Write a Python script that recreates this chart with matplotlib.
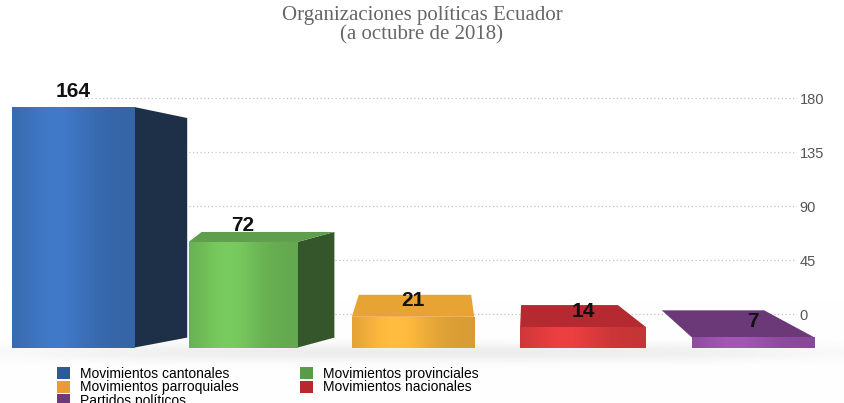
import numpy as np
import matplotlib
matplotlib.use("Agg")
import matplotlib.pyplot as plt
from matplotlib.patches import Polygon, Patch

#--------------------------------
# DATA
#--------------------------------
categories = ["Movimientos cantonales", "Movimientos provinciales",
              "Movimientos parroquiales", "Movimientos nacionales",
              "Partidos políticos"]
values = [164, 72, 21, 14, 7]
yticks = [0, 45, 90, 135, 180]
title = "Organizaciones políticas Ecuador\n(a octubre de 2018)"

#--------------------------------
# STYLE (colores y pseudo-3D por barra)
#--------------------------------
front_col = ["#3d73bd", "#72c05a", "#f5b23c", "#e03c3e", "#9b52ad"]
side_col = ["#1e3048", "#34562a", None, None, None]
top_col = [None, "#5f9e4c", "#e8a335", "#b52a30", "#6b3878"]
legend_col = ["#2e5b94", "#5b9a48", "#e99b39", "#b8292b", "#6a3a7b"]
bar_w = [0.72, 0.64, 0.72, 0.74, 0.72]
# desplazamientos en px: (dx derecha, dx izquierda, dy arriba, dy abajo)
depth = [(53, 0, -11, 10), (37, 13, 10, 10), (-3, 7, 22, 0),
         (-28, 1, 22, 0), (-50, -30, 27, 0)]

W, H = 844, 403
PX_X = 170.0     # px por unidad x
PX_Y = 1.467     # px por unidad y (plano frontal)
ZERO_Y = 347.6   # px del 0 en el plano frontal

def box(left, top, right, bottom):
    return [left / W, 1 - bottom / H, (right - left) / W, (bottom - top) / H]

fig = plt.figure(figsize=(W / 100, H / 100), dpi=100)

#--------------------------------
# fondo con sombra suave del piso
#--------------------------------
bg = fig.add_axes([0, 0, 1, 1])
bg.axis("off")
yy, xx = np.mgrid[0:H, 0:W]
shadow = 0.07 * np.exp(-((yy - 352) / 9.0) ** 2) * np.exp(-((xx - 422) / 400.0) ** 4)
img = np.dstack([1 - shadow] * 3)
bg.imshow(img, extent=(0, W, H, 0), aspect="auto", zorder=0)
bg.set_xlim(0, W)
bg.set_ylim(H, 0)

#--------------------------------
# plano de fondo: grilla + eje derecho
#--------------------------------
back = fig.add_axes(box(80, 86, 797, 350))
back.set_facecolor("none")
back.set_xlim(0, 1)
back.set_ylim(-30, 190)
back.set_yticks(yticks)
back.set_xticks([])
back.yaxis.tick_right()
back.tick_params(axis="y", length=0, pad=2, labelsize=10.5, labelcolor="#555555")
for lab in back.get_yticklabels():
    lab.set_family("Liberation Sans")
back.yaxis.grid(True, linestyle=(0, (1, 2)), color="#c4c4c4", lw=0.9)
for s in back.spines.values():
    s.set_visible(False)

#--------------------------------
# plano frontal: barras
#--------------------------------
ax = fig.add_axes(box(0, 40, W, 360))
ax.axis("off")
sx = 1.0 / PX_X
sy = 1.0 / PX_Y

for i, v in enumerate(values):
    z = 2 + i
    bw = bar_w[i]
    x0, x1 = i - bw / 2, i + bw / 2
    dxr, dxl, dyt, dyb = depth[i]

    if side_col[i] is not None and dxr > 0:
        side = Polygon([(x1, v), (x1, 0), (x1 + dxr * sx, dyb * sy),
                        (x1 + dxr * sx, v + dyt * sy)],
                       closed=True, color=side_col[i], lw=0, zorder=z)
        ax.add_patch(side)
    if top_col[i] is not None and dyt > 0:
        top = Polygon([(x0, v), (x1, v), (x1 + dxr * sx, v + dyt * sy),
                       (x0 + dxl * sx, v + dyt * sy)],
                      closed=True, color=top_col[i], lw=0, zorder=z)
        ax.add_patch(top)

    rect = ax.bar(i, v, width=bw, color=front_col[i], lw=0, zorder=z + 0.5)[0]

    # brillo horizontal en la cara frontal
    t = np.linspace(0, 1, 64)
    f = 0.88 + 0.18 * np.exp(-((t - 0.35) / 0.3) ** 2)
    rgb = np.array(matplotlib.colors.to_rgb(front_col[i]))
    grad = np.clip(rgb[None, None, :] * f[None, :, None], 0, 1)
    im = ax.imshow(grad, extent=(x0, x1, 0, v), aspect="auto",
                   interpolation="bilinear", zorder=z + 0.6)
    im.set_clip_path(rect)

    ax.annotate(str(v), (i, v), xytext=(0, 16 * 0.72), textcoords="offset points",
                ha="center", va="center", fontsize=15, fontweight="bold",
                family="Liberation Sans", color="#111111", zorder=20)

ax.set_xlim(-73 / PX_X, (W - 73) / PX_X)
ax.set_ylim((ZERO_Y - 360) / PX_Y, (ZERO_Y - 40) / PX_Y)

#--------------------------------
# titulo y leyenda
#--------------------------------
fig.text(422 / W, 1 - 6 / H, title, ha="center", va="top",
         family="Liberation Serif", fontsize=15, color="#666666", linespacing=1.0)

order = [0, 2, 4, 1, 3]  # columnas: 3 + 2
handles = [Patch(facecolor=legend_col[k], edgecolor="none") for k in order]
labels = [categories[k] for k in order]
fig.legend(handles, labels, ncol=2, loc="upper left",
           bbox_to_anchor=(57 / W, 1 - 367 / H), frameon=False,
           prop={"family": "Liberation Sans", "size": 10},
           handlelength=0.95, handleheight=0.95, handletextpad=0.7,
           columnspacing=4.4, labelspacing=-0.05, borderpad=0, borderaxespad=0)

fig.savefig("out.png", dpi=100)
